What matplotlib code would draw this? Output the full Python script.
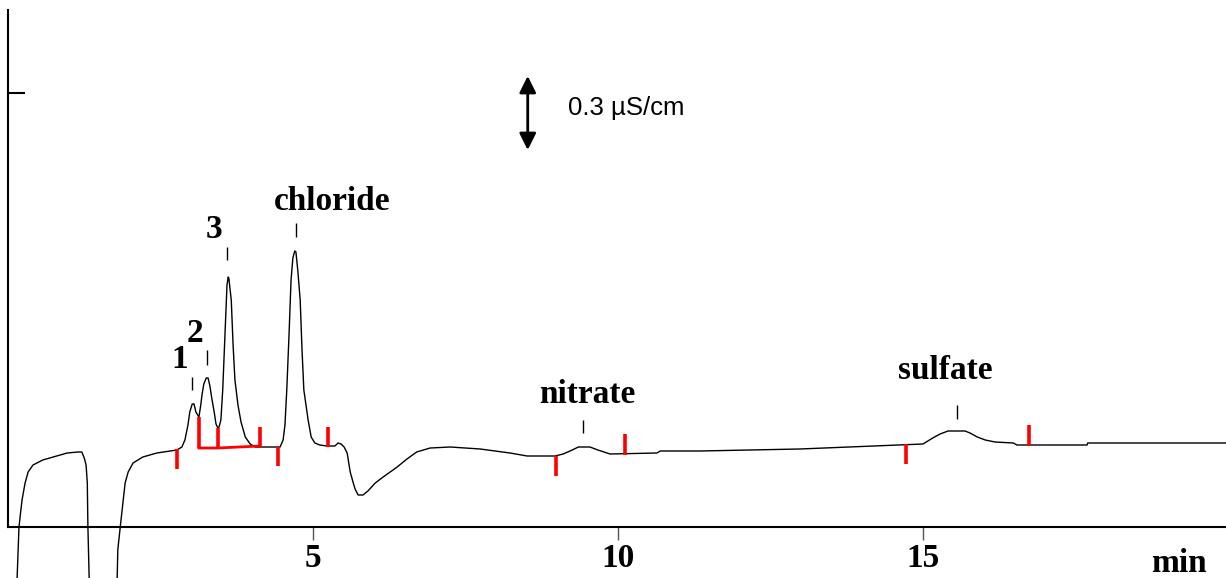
import matplotlib
matplotlib.use("Agg")
import matplotlib.pyplot as plt

# ---- data (time in min, conductivity in µS/cm, arbitrary offset) ----
time_min = [0.13, 0.15, 0.18, 0.23, 0.28, 0.33, 0.41, 0.57, 0.74, 0.97, 1.15, 1.21, 1.25,
            1.28, 1.30, 1.31, 1.33, 1.34,
            1.77, 1.79, 1.80, 1.84, 1.89, 1.92, 1.97, 2.05, 2.21, 2.44, 2.77, 2.85,
            2.90, 2.95, 2.98, 3.02, 3.05, 3.08, 3.13, 3.16, 3.18, 3.21, 3.25, 3.28, 3.31,
            3.34, 3.38, 3.41, 3.44, 3.46, 3.49, 3.52, 3.56, 3.59, 3.61, 3.62, 3.66, 3.69,
            3.72, 3.77, 3.82, 3.89, 3.97, 4.05, 4.46, 4.51, 4.54, 4.57, 4.61, 4.64, 4.67,
            4.70, 4.72, 4.75, 4.79, 4.82, 4.85, 4.92, 4.97, 5.03, 5.11, 5.23, 5.36, 5.41,
            5.46, 5.51, 5.56, 5.61, 5.66, 5.69, 5.74, 5.82, 5.90, 6.02, 6.15, 6.38, 6.54,
            6.70, 6.92, 7.25, 7.74, 8.23, 8.51, 8.97, 9.10, 9.25, 9.35, 9.46, 9.54, 9.67,
            9.87, 10.64, 10.69, 11.34, 12.98, 13.80, 15.00, 15.08, 15.16, 15.28, 15.41,
            15.69, 15.77, 15.89, 16.02, 16.18, 16.48, 16.54, 17.69, 17.70, 20.00]
signal = [-0.292, -0.20, 0.00, 0.108, 0.176, 0.22, 0.248, 0.268, 0.28, 0.296, 0.30, 0.30, 0.276,
          0.248, 0.176, 0.00, -0.20, -0.292,
          -0.292, -0.20, -0.092, 0.00, 0.108, 0.176, 0.22, 0.256, 0.28, 0.296, 0.308, 0.32,
          0.348, 0.408, 0.46, 0.492, 0.492, 0.46, 0.44, 0.488, 0.528, 0.572, 0.596, 0.596, 0.564,
          0.516, 0.46, 0.412, 0.396, 0.40, 0.428, 0.548, 0.788, 0.968, 1.00, 0.996, 0.908, 0.728,
          0.588, 0.488, 0.42, 0.36, 0.332, 0.32, 0.32, 0.348, 0.408, 0.548, 0.788, 0.988, 1.076,
          1.104, 1.10, 1.028, 0.908, 0.708, 0.548, 0.428, 0.36, 0.336, 0.328, 0.324, 0.324, 0.336,
          0.332, 0.32, 0.296, 0.22, 0.176, 0.152, 0.128, 0.128, 0.144, 0.176, 0.20, 0.24, 0.272,
          0.30, 0.316, 0.32, 0.312, 0.296, 0.284, 0.284, 0.292, 0.308, 0.32, 0.32, 0.32, 0.308,
          0.292, 0.296, 0.304, 0.304, 0.312, 0.32, 0.332, 0.344, 0.356, 0.372, 0.384,
          0.384, 0.376, 0.36, 0.348, 0.34, 0.336, 0.328, 0.328, 0.336, 0.336]

# integration markers: (time, low, high)
marker_t = [2.77, 3.13, 3.44, 4.13, 4.43, 5.25, 8.98, 10.11, 14.72, 16.74]
marker_lo = [0.232, 0.316, 0.316, 0.32, 0.244, 0.32, 0.204, 0.288, 0.252, 0.324]
marker_hi = [0.312, 0.44, 0.396, 0.40, 0.32, 0.40, 0.284, 0.372, 0.332, 0.408]
base_t = [3.13, 3.44, 4.13]
base_s = [0.316, 0.316, 0.324]

# peak labels
peak_names = ["1", "2", "3", "chloride", "nitrate", "sulfate"]
label_t = [2.82, 3.07, 3.38, 5.31, 9.49, 15.36]
label_s = [0.636, 0.74, 1.156, 1.268, 0.496, 0.592]
leader_t = [3.02, 3.26, 3.59, 4.72, 9.43, 15.56]
leader_lo = [0.548, 0.648, 1.068, 1.16, 0.376, 0.432]
leader_hi = [0.60, 0.708, 1.12, 1.216, 0.428, 0.488]

xticks = [5, 10, 15]
xtick_labels = ["5", "10", "15"]

scale_t = 8.52
scale_lo, scale_hi = 1.508, 1.804
scale_text = "0.3 µS/cm"

# ---- figure ----
W, H = 1226, 578
fig = plt.figure(figsize=(W / 100, H / 100), dpi=100)
ax = fig.add_axes([8 / W, 51 / H, (W - 8) / W, 517 / H])
ax.set_xlim(0, (W - 8) / 61)
ax.set_ylim(0, 2.068)

ax.plot(time_min, signal, color="black", lw=1.0, clip_on=False, zorder=3)

for t, lo, hi in zip(marker_t, marker_lo, marker_hi):
    ax.plot([t, t], [lo, hi], color="red", lw=2.6, solid_capstyle="butt", zorder=4)
ax.plot(base_t, base_s, color="red", lw=2.0, zorder=4)

serif = ["Liberation Serif", "DejaVu Serif"]
for name, x, y in zip(peak_names, label_t, label_s):
    ax.text(x, y, name, ha="center", va="baseline", fontsize=24,
            fontweight="bold", family=serif)
for t, lo, hi in zip(leader_t, leader_lo, leader_hi):
    ax.plot([t, t], [lo, hi], color="black", lw=1.0, solid_capstyle="butt")

ax.annotate("", xy=(scale_t, scale_lo), xytext=(scale_t, scale_hi),
            arrowprops=dict(arrowstyle="<|-|>,head_length=0.5,head_width=0.25",
                            lw=2, color="black", mutation_scale=20,
                            shrinkA=0, shrinkB=0))
ax.text(9.18, 1.648, scale_text, ha="left", va="baseline", fontsize=18.5,
        family=["Liberation Sans", "DejaVu Sans"])

ax.text(19.2, -0.18, "min", ha="center", va="baseline", fontsize=24,
        fontweight="bold", family=serif, clip_on=False)

for s in ["top", "right"]:
    ax.spines[s].set_visible(False)
ax.spines["left"].set_linewidth(1.5)
ax.spines["bottom"].set_linewidth(1.5)

ax.set_xticks(xticks)
ax.set_xticklabels(xtick_labels, fontsize=24, fontweight="bold", family=serif)
ax.tick_params(axis="x", direction="out", length=9.5, width=1, color="#555555", pad=2)
ax.set_yticks([1.736])
ax.set_yticklabels([])
ax.tick_params(axis="y", direction="in", length=12, width=1.5)

fig.savefig("out.png", dpi=100)
